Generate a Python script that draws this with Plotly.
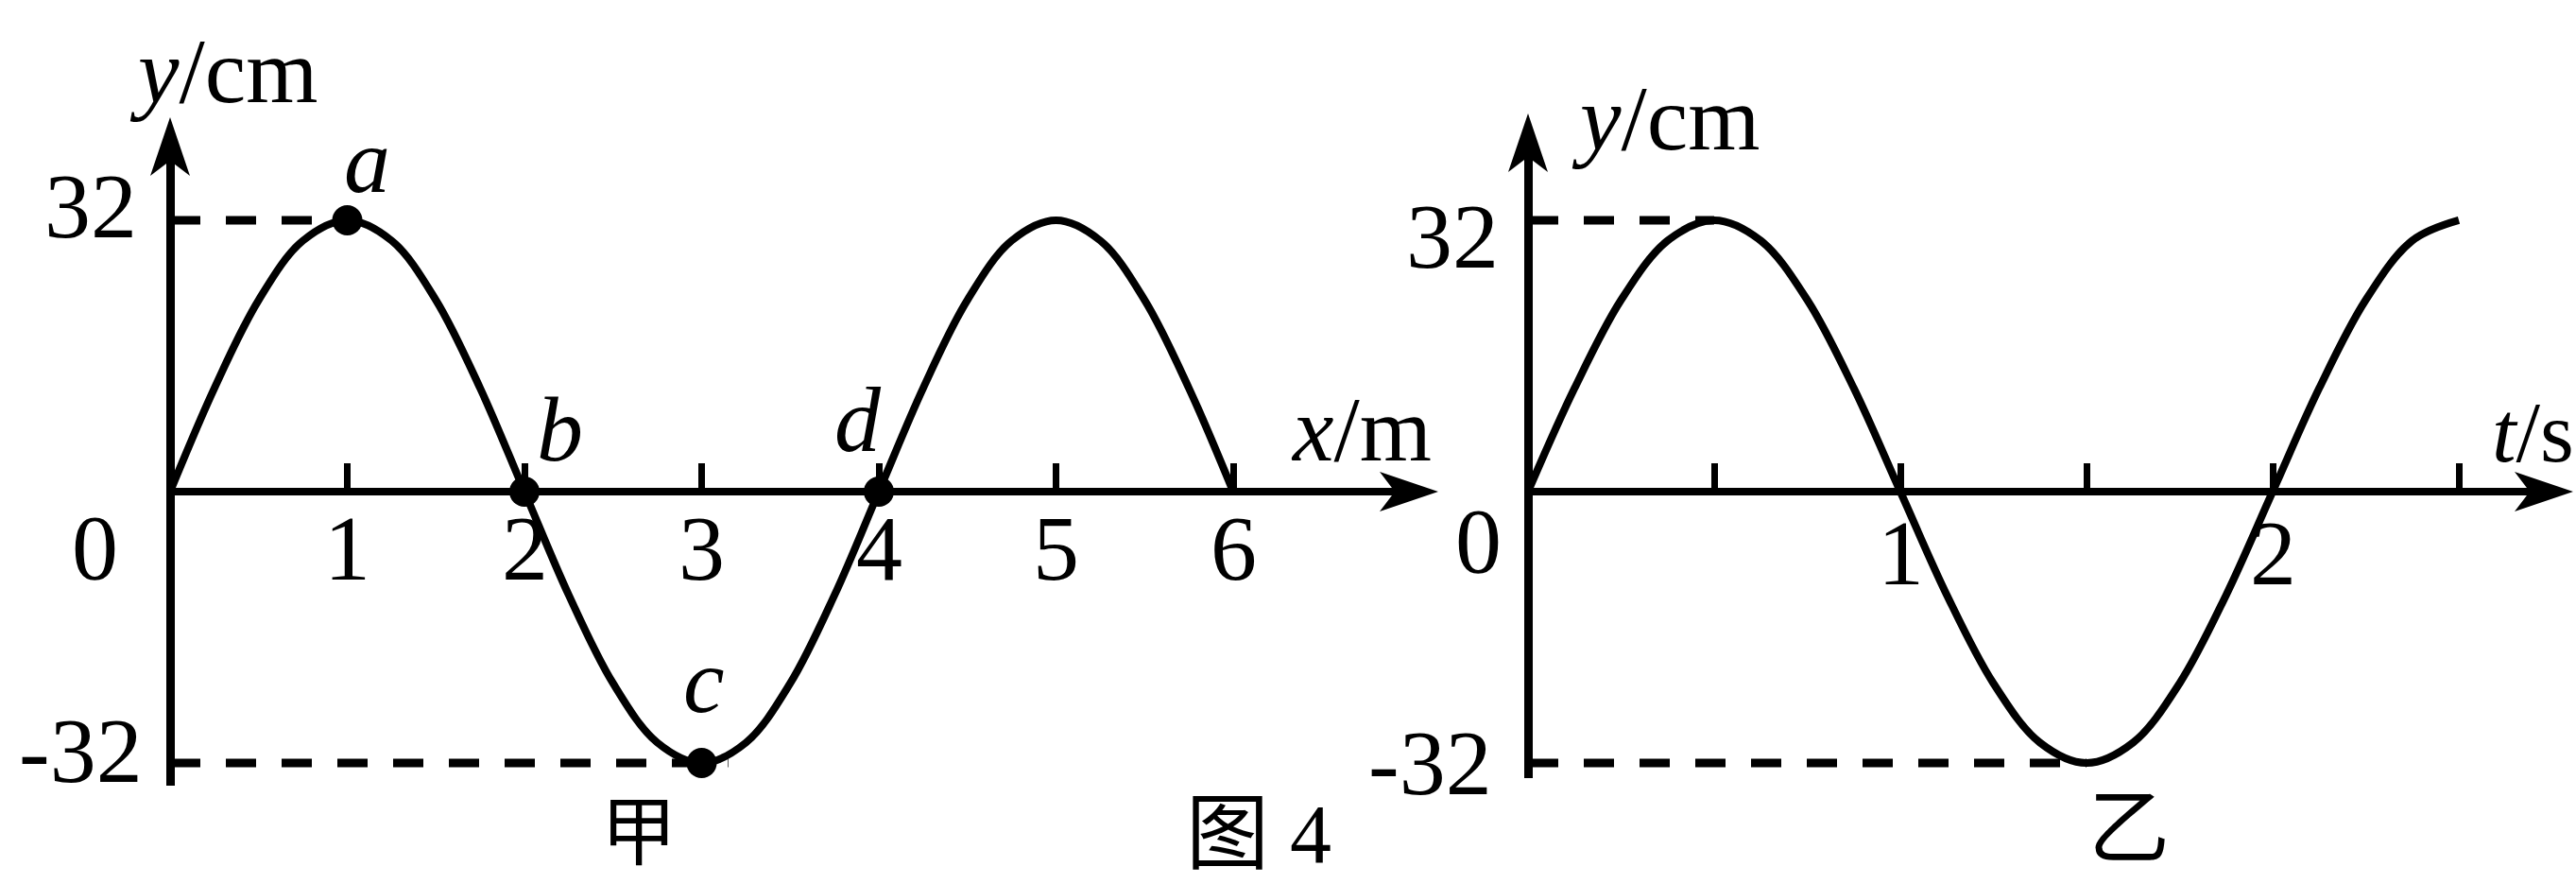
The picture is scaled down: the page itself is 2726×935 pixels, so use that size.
import plotly.graph_objects as go

# ---------------- data ----------------
# waveform y(x) at t = 0, sampled every quarter metre
wave_x = [0, 0.25, 0.5, 0.75, 1, 1.25, 1.5, 1.75, 2, 2.25, 2.5, 2.75, 3,
          3.25, 3.5, 3.75, 4, 4.25, 4.5, 4.75, 5, 5.25, 5.5, 5.75, 6]
wave_y = [0, 12.2, 22.6, 29.6, 32, 29.6, 22.6, 12.2, 0, -12.2, -22.6, -29.6,
          -32, -29.6, -22.6, -12.2, 0, 12.2, 22.6, 29.6, 32, 29.6, 22.6, 12.2, 0]

# vibration graph y(t) of one particle
osc_t = [0, 0.125, 0.25, 0.375, 0.5, 0.625, 0.75, 0.875, 1, 1.125, 1.25,
         1.375, 1.5, 1.625, 1.75, 1.875, 2, 2.125, 2.25, 2.375, 2.5]
osc_y = [0, 12.2, 22.6, 29.6, 32, 29.6, 22.6, 12.2, 0, -12.2, -22.6, -29.6,
         -32, -29.6, -22.6, -12.2, 0, 12.2, 22.6, 29.6, 32]

# marked particles on the wave
pt_names = ["a", "b", "c", "d"]
pt_x = [1, 2, 3, 4]
pt_y = [32, 0, -32, 0]

# dashed guides to the amplitude
amp = 32
guide_wave_x = [[0, 1], [0, 3.15]]
guide_wave_y = [[amp, amp], [-amp, -amp]]
guide_osc_x = [[0, 0.5], [0, 1.5]]
guide_osc_y = [[amp, amp], [-amp, -amp]]

wave_ticks = [1, 2, 3, 4, 5, 6]
wave_ticktext = ["1", "2", "3", "4", "5", "6"]
osc_ticks = [0.5, 1, 1.5, 2, 2.5]
osc_ticktext = ["", "1", "", "2", ""]
y_ticks = [32, -32]
y_ticktext = ["32", "-32"]

# ---------------- layout geometry (pixels) ----------------
W, H = 2726, 935
SERIF = "Liberation Serif"
CJK = "Noto Sans CJK SC"
FS = 98
INK = "black"


def fx(px):
    return px / W


def fy(py):
    return 1 - py / H


Y_ZERO = 520          # pixel row of y = 0 in both panels
Y_SCALE = 8.97        # pixels per cm
HEAD_LEN, HEAD_HALF, HEAD_NOTCH = 62, 21, 46

# left panel (wave)
L_X0, L_XS, L_XTIP = 180, 187.5, 1522
L_YTIP, L_YBOT = 124, 831
# right panel (vibration)
R_X0, R_XS, R_XTIP = 1617, 394.0, 2723
R_YTIP, R_YBOT = 120, 823


def x_range(x0, xs, a, b):
    return [(a - x0) / xs, (b - x0) / xs]


def y_range(top, bot):
    return [(Y_ZERO - bot) / Y_SCALE, (Y_ZERO - top) / Y_SCALE]


fig = go.Figure()

line_style = dict(color=INK, width=8)
dash_style = dict(color=INK, width=9, dash="32px,27px")

# wave curve
fig.add_trace(go.Scatter(x=wave_x, y=wave_y, mode="lines", line_shape="spline",
                         line=line_style, xaxis="x", yaxis="y", hoverinfo="skip"))
for gx, gy in zip(guide_wave_x, guide_wave_y):
    fig.add_trace(go.Scatter(x=gx, y=gy, mode="lines", line=dash_style,
                             xaxis="x", yaxis="y", hoverinfo="skip"))
fig.add_trace(go.Scatter(x=pt_x, y=pt_y, mode="markers",
                         marker=dict(size=32, color=INK), cliponaxis=False,
                         xaxis="x", yaxis="y", hoverinfo="skip"))

# vibration curve
fig.add_trace(go.Scatter(x=osc_t, y=osc_y, mode="lines", line_shape="spline",
                         line=line_style, xaxis="x2", yaxis="y2", hoverinfo="skip"))
for gx, gy in zip(guide_osc_x, guide_osc_y):
    fig.add_trace(go.Scatter(x=gx, y=gy, mode="lines", line=dash_style,
                             xaxis="x2", yaxis="y2", hoverinfo="skip"))

xcommon = dict(anchor="free", position=fy(Y_ZERO), showline=True, linewidth=8,
               linecolor=INK, ticks="inside", ticklen=26, tickwidth=7,
               tickcolor=INK, tickmode="array", showticklabels=False,
               showgrid=False, zeroline=False, fixedrange=True)
ycommon = dict(anchor="free", showline=True, linewidth=9, linecolor=INK,
               ticks="", showticklabels=False, showgrid=False,
               zeroline=False, fixedrange=True)

L_XEND = L_XTIP - 40
R_XEND = R_XTIP - 40
L_YTOP = L_YTIP + 40
R_YTOP = R_YTIP + 40

fig.update_layout(
    width=W, height=H, margin=dict(l=0, r=0, t=0, b=0),
    paper_bgcolor="white", plot_bgcolor="rgba(0,0,0,0)", showlegend=False,
    xaxis=dict(xcommon, domain=[fx(L_X0), fx(L_XEND)],
               range=x_range(L_X0, L_XS, L_X0, L_XEND), tickvals=wave_ticks),
    yaxis=dict(ycommon, domain=[fy(L_YBOT), fy(L_YTOP)], position=fx(L_X0),
               range=y_range(L_YTOP, L_YBOT)),
    xaxis2=dict(xcommon, domain=[fx(R_X0), fx(R_XEND)],
                range=x_range(R_X0, R_XS, R_X0, R_XEND), tickvals=osc_ticks),
    yaxis2=dict(ycommon, domain=[fy(R_YBOT), fy(R_YTOP)], position=fx(R_X0),
                range=y_range(R_YTOP, R_YBOT)),
)

# notched arrowheads at the axis ends
right_head = "M0,0 L{0},{1} L{2},0 L{0},{3} Z".format(-HEAD_LEN, HEAD_HALF,
                                                     -HEAD_NOTCH, -HEAD_HALF)
up_head = "M0,0 L{0},{1} L0,{2} L{3},{1} Z".format(-HEAD_HALF, -HEAD_LEN,
                                                  -HEAD_NOTCH, HEAD_HALF)
for tx, ty, path in [(L_XTIP, Y_ZERO, right_head), (L_X0, L_YTIP, up_head),
                     (R_XTIP, Y_ZERO, right_head), (R_X0, R_YTIP, up_head)]:
    fig.add_shape(type="path", xref="paper", yref="paper",
                  xsizemode="pixel", ysizemode="pixel",
                  xanchor=fx(tx), yanchor=fy(ty), path=path,
                  fillcolor=INK, line=dict(width=0), layer="above")

font = dict(family=SERIF, size=FS, color=INK)

# tick numbers, placed on the axis scale
for xref, yref, vals, texts, dy in [("x", "y", wave_ticks, wave_ticktext, -60),
                                    ("x2", "y2", osc_ticks, osc_ticktext, -65)]:
    for v, t in zip(vals, texts):
        if t:
            fig.add_annotation(text=t, x=v, y=0, xref=xref, yref=yref,
                               yshift=dy, xanchor="center", yanchor="middle",
                               showarrow=False, font=font)

# amplitude numbers on the y axes (pixel nudges)
y_label_shift = [("x", "y", [(-33, 15), (-27, 13)]),
                 ("x2", "y2", [(-29, -17), (-36, 0)])]
for xref, yref, shifts in y_label_shift:
    for v, t, (dx, dy) in zip(y_ticks, y_ticktext, shifts):
        fig.add_annotation(text=t, x=0, y=v, xref=xref, yref=yref,
                           xshift=dx, yshift=dy, xanchor="right",
                           yanchor="middle", showarrow=False, font=font)

# free text: (text, x px, y px, size, family, vertical anchor)
texts = [
    ("<i>y</i>/cm", 236, 75, FS, SERIF, "middle"),
    ("<i>x</i>/m", 1440, 454, FS, SERIF, "middle"),
    ("0", 100, 579, FS, SERIF, "middle"),
    ("<i>y</i>/cm", 1762, 125, FS, SERIF, "middle"),
    ("<i>t</i>/s", 2680, 457, FS - 6, SERIF, "middle"),
    ("0", 1564, 572, FS, SERIF, "middle"),
    ("甲", 676, 933, 80, CJK, "bottom"),
    ("乙", 2253, 868, 86, CJK, "middle"),
    ("图 4", 1332, 933, 88, SERIF + ", " + CJK, "bottom"),
]
for t, px, py, s, fam, ya in texts:
    fig.add_annotation(text=t, x=fx(px), y=fy(py), xref="paper", yref="paper",
                       xanchor="center", yanchor=ya, showarrow=False,
                       font=dict(family=fam, size=s, color=INK))

# letters beside the marked particles (offsets in pixels)
pt_shift = [(21, 63), (37, 66), (2, 87), (-22, 76)]
for name, x, y, (dx, dy) in zip(pt_names, pt_x, pt_y, pt_shift):
    fig.add_annotation(text="<i>" + name + "</i>", x=x, y=y, xref="x", yref="y",
                       xshift=dx, yshift=dy, xanchor="center", yanchor="middle",
                       showarrow=False, font=font)

fig.write_html("out.html", config={"displayModeBar": False})
